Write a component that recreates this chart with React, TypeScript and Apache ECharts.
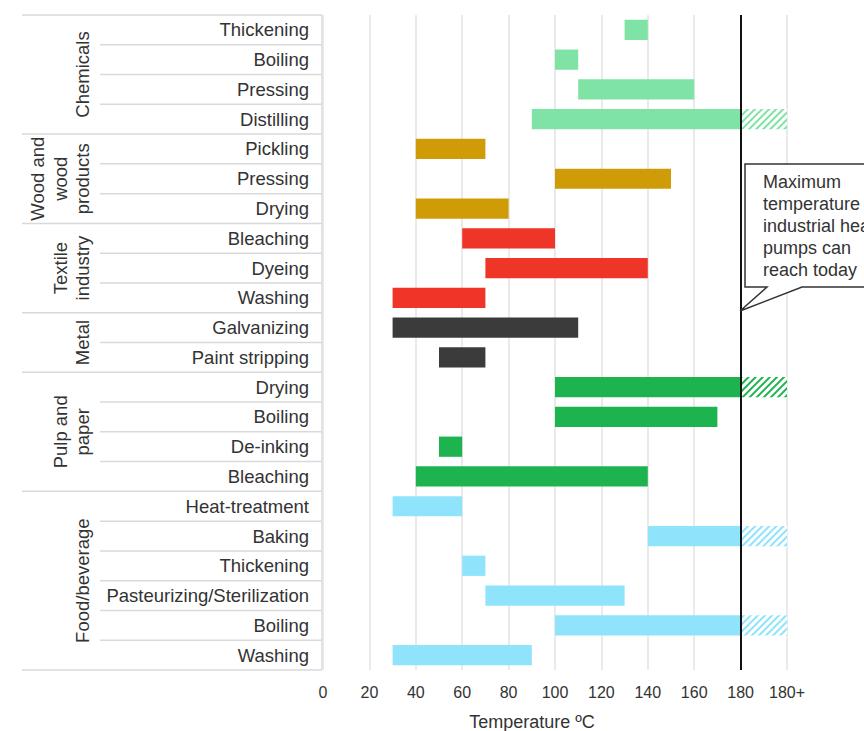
import React, { useEffect, useRef } from "react";
import * as echarts from "echarts";

const categories = [
  "Thickening", "Boiling", "Pressing", "Distilling",
  "Pickling", "Pressing", "Drying",
  "Bleaching", "Dyeing", "Washing",
  "Galvanizing", "Paint stripping",
  "Drying", "Boiling", "De-inking", "Bleaching",
  "Heat-treatment", "Baking", "Thickening", "Pasteurizing/Sterilization", "Boiling", "Washing",
];
const starts = [130, 100, 110, 90, 40, 100, 40, 60, 70, 30, 30, 50, 100, 100, 50, 40, 30, 140, 60, 70, 100, 30];
const ends = [140, 110, 160, 180, 70, 150, 80, 100, 140, 70, 110, 70, 180, 170, 60, 140, 60, 180, 70, 130, 180, 90];
const beyond180 = [0, 0, 0, 20, 0, 0, 0, 0, 0, 0, 0, 0, 20, 0, 0, 0, 0, 20, 0, 0, 20, 0];
const groups = [
  { name: "Chemicals", from: 0, to: 4 },
  { name: "Wood and\nwood\nproducts", from: 4, to: 7 },
  { name: "Textile\nindustry", from: 7, to: 10 },
  { name: "Metal", from: 10, to: 12 },
  { name: "Pulp and\npaper", from: 12, to: 16 },
  { name: "Food/beverage", from: 16, to: 22 },
];
const groupColors = ["#7fe3a6", "#cf9b06", "#ee3527", "#3b3b3b", "#1db34f", "#8fe4fb"];
const xTicks = [0, 20, 40, 60, 80, 100, 120, 140, 160, 180, 200];
const xTickLabels = ["0", "20", "40", "60", "80", "100", "120", "140", "160", "180", "180+"];
const maxLine = 180;
const calloutText = "Maximum\ntemperature\nindustrial heat\npumps can\nreach today";

const FONT = "'Liberation Sans', Arial, sans-serif";

export default function App() {
  const ref = useRef<HTMLDivElement>(null);
  useEffect(() => {
    document.body.style.margin = "0";
    const chart = echarts.init(ref.current!, undefined, { renderer: "svg" });
    const top = 15, bottom = 670, left = 323, right = 787;
    const rowH = (bottom - top) / categories.length;
    const colorOf = (i: number) => {
      const g = groups.find((g) => i >= g.from && i < g.to)!;
      return groupColors[groups.indexOf(g)];
    };
    const graphics: any[] = [];
    const groupBounds = new Set<number>();
    groups.forEach((g) => { groupBounds.add(g.from); groupBounds.add(g.to); });
    for (let r = 0; r <= categories.length; r++) {
      const y = top + r * rowH;
      const isGroup = groupBounds.has(r);
      graphics.push({
        type: "line",
        shape: { x1: isGroup ? 22 : 100, y1: y, x2: 322, y2: y },
        style: { stroke: "#d9d9d9", lineWidth: 1.5 },
      });
    }
    graphics.push({ type: "line", shape: { x1: 322, y1: top, x2: 322, y2: bottom }, style: { stroke: "#d9d9d9", lineWidth: 1.5 } });
    groups.forEach((g) => {
      const cy = top + ((g.from + g.to) / 2) * rowH;
      graphics.push({
        type: "text",
        x: 94,
        y: cy,
        rotation: Math.PI / 2,
        style: {
          text: g.name,
          font: `18.5px ${FONT}`,
          fill: "#333",
          align: "center",
          verticalAlign: "bottom",
          lineHeight: 22.5,
        },
      });
    });
    graphics.push({
      type: "polygon",
      shape: { points: [[745, 164], [875, 164], [875, 287], [802, 287], [740, 311], [767, 287], [745, 287]] },
      style: { fill: "#fff", stroke: "#333", lineWidth: 1.5 },
      z: 10,
    });
    graphics.push({
      type: "text",
      x: 763,
      y: 171,
      z: 11,
      style: { text: calloutText, font: `18px ${FONT}`, fill: "#333", lineHeight: 22, verticalAlign: "top" },
    });
    graphics.push({
      type: "text",
      x: 532,
      y: 722,
      style: { text: "Temperature \u00baC", font: `18px ${FONT}`, fill: "#333", align: "center", verticalAlign: "middle" },
    });

    chart.setOption({
      animation: false,
      grid: { left, right: 864 - right, top, bottom: 731 - bottom, containLabel: false },
      xAxis: {
        type: "value",
        min: 0,
        max: 200,
        interval: 20,
        axisLine: { show: false },
        axisTick: { show: false },
        splitLine: { show: true, lineStyle: { color: "#e3e3e3", width: 1.5 } },
        axisLabel: {
          margin: 14,
          fontSize: 16,
          fontFamily: FONT,
          color: "#333",
          formatter: (v: number) => xTickLabels[xTicks.indexOf(v)] ?? String(v),
        },
      },
      yAxis: {
        type: "category",
        inverse: true,
        data: categories,
        axisLine: { show: false },
        axisTick: { show: false },
        splitLine: { show: false },
        axisLabel: { margin: 14, fontSize: 18.5, fontFamily: FONT, color: "#333" },
      },
      graphic: graphics,
      series: [
        {
          type: "bar",
          stack: "a",
          silent: true,
          barWidth: "68%",
          itemStyle: { color: "rgba(0,0,0,0)" },
          data: starts,
        },
        {
          type: "bar",
          stack: "a",
          barWidth: "68%",
          data: ends.map((e, i) => ({ value: e - starts[i], itemStyle: { color: colorOf(i) } })),
          markLine: {
            silent: true,
            symbol: "none",
            label: { show: false },
            lineStyle: { color: "#111", width: 2, type: "solid" },
            data: [{ xAxis: maxLine }],
          },
        },
        {
          type: "bar",
          stack: "a",
          barWidth: "68%",
          data: beyond180.map((v, i) => ({
            value: v || "-",
            itemStyle: {
              color: "#ffffff",
              decal: {
                symbol: "rect",
                symbolSize: 1,
                dashArrayX: [1, 0],
                dashArrayY: [2, 3],
                rotation: -Math.PI / 4,
                color: colorOf(i),
              },
            },
          })),
        },
      ],
    });
    return () => chart.dispose();
  }, []);
  return <div ref={ref} style={{ width: 864, height: 731 }} />;
}
